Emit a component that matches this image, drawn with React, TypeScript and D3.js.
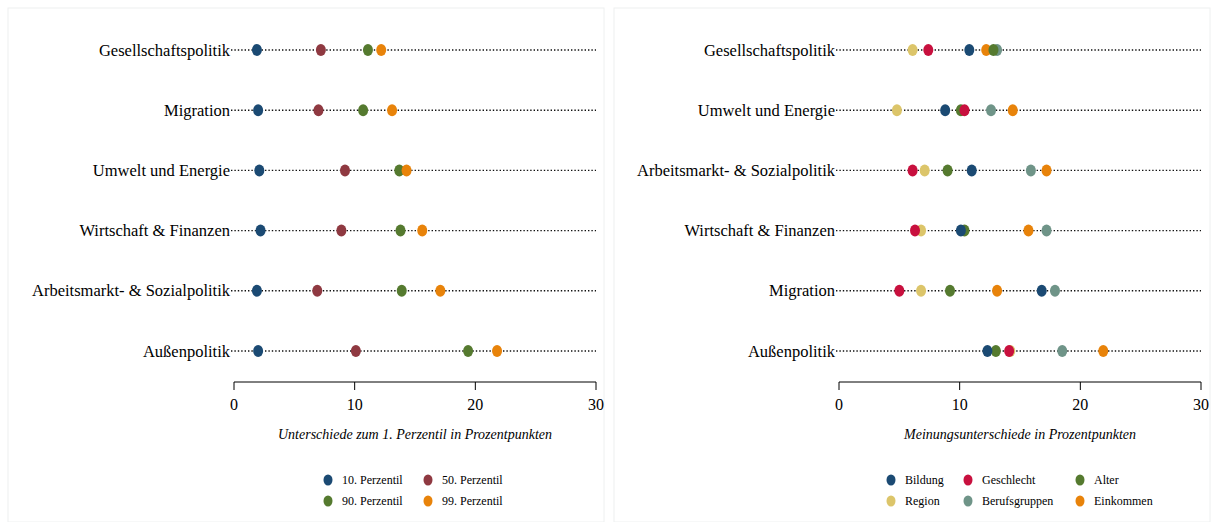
import React from 'react';
import * as d3 from 'd3';

const leftCats = ['Gesellschaftspolitik', 'Migration', 'Umwelt und Energie', 'Wirtschaft & Finanzen', 'Arbeitsmarkt- & Sozialpolitik', 'Außenpolitik'];
const leftSeries = ['10. Perzentil', '50. Perzentil', '90. Perzentil', '99. Perzentil'];
const leftColors = ['#1b4a73', '#8f3941', '#557a2f', '#e8830a'];
const leftValues = [
  [1.9, 7.2, 11.1, 12.2],
  [2.0, 7.0, 10.7, 13.1],
  [2.1, 9.2, 13.7, 14.3],
  [2.2, 8.9, 13.8, 15.6],
  [1.9, 6.9, 13.9, 17.1],
  [2.0, 10.1, 19.4, 21.8],
];

const rightCats = ['Gesellschaftspolitik', 'Umwelt und Energie', 'Arbeitsmarkt- & Sozialpolitik', 'Wirtschaft & Finanzen', 'Migration', 'Außenpolitik'];
const rightSeries = ['Bildung', 'Geschlecht', 'Alter', 'Region', 'Berufsgruppen', 'Einkommen'];
const rightColors = ['#1b4a73', '#c8103e', '#557a2f', '#dcc56a', '#6f9488', '#e8830a'];
// order: Bildung, Geschlecht, Alter, Region, Berufsgruppen, Einkommen
const rightValues = [
  [10.8, 7.4, 12.8, 6.1, 13.1, 12.2],
  [8.8, 10.4, 10.1, 4.8, 12.6, 14.4],
  [11.0, 6.1, 9.0, 7.1, 15.9, 17.2],
  [10.1, 6.3, 10.4, 6.8, 17.2, 15.7],
  [16.8, 5.0, 9.2, 6.8, 17.9, 13.1],
  [12.3, 14.1, 13.0, 14.2, 18.5, 21.9],
];
const rightDrawOrder = [3, 4, 5, 2, 0, 1];
const ticks = [0, 10, 20, 30];

const font = '"Liberation Serif", "Times New Roman", serif';

function Panel({ ox, x0, cats, values, colors, order, title, legend, legendCols }: any) {
  const x = d3.scaleLinear().domain([0, 30]).range([x0, x0 + 362]);
  const y = d3.scalePoint().domain(cats).range([50, 351]);
  return (
    <g>
      <rect x={ox} y={8} width={596} height={514} fill="#fff" stroke="#eef0f0" />
      {cats.map((c: string, i: number) => (
        <g key={c}>
          <text x={x0 - 4} y={y(c)! + 5.5} textAnchor="end" fontSize={16.5}>{c}</text>
          <line x1={x0 - 3} x2={x(30)} y1={y(c)} y2={y(c)} stroke="#111" strokeWidth={1.4} strokeDasharray="1.4 2" />
          {order.map((s: number) => (
            <ellipse key={s} cx={x(values[i][s])} cy={y(c)} rx={5} ry={6} fill={colors[s]} />
          ))}
        </g>
      ))}
      <line x1={x(0)} x2={x(30)} y1={382} y2={382} stroke="#000" />
      {ticks.map(t => (
        <g key={t}>
          <line x1={x(t)} x2={x(t)} y1={382} y2={390} stroke="#000" />
          <text x={x(t)} y={410} textAnchor="middle" fontSize={16}>{t}</text>
        </g>
      ))}
      <text x={x(15)} y={439} textAnchor="middle" fontSize={14} fontStyle="italic">{title}</text>
      {legend.map((l: string, i: number) => {
        const col = i % legendCols.length;
        const row = Math.floor(i / legendCols.length);
        return (
          <g key={l}>
            <ellipse cx={legendCols[col]} cy={480 + row * 21} rx={4.5} ry={5.5} fill={colors[i]} />
            <text x={legendCols[col] + 14} y={484 + row * 21} fontSize={12}>{l}</text>
          </g>
        );
      })}
    </g>
  );
}

export default function App() {
  return (
    <svg width={1211} height={522} style={{ position: 'absolute', left: 0, top: 0, fontFamily: font }}>
      <Panel ox={8} x0={234} cats={leftCats} values={leftValues} colors={leftColors} order={[0, 1, 2, 3]}
        title="Unterschiede zum 1. Perzentil in Prozentpunkten" legend={leftSeries} legendCols={[328, 428]} />
      <Panel ox={614} x0={839} cats={rightCats} values={rightValues} colors={rightColors} order={rightDrawOrder}
        title="Meinungsunterschiede in Prozentpunkten" legend={rightSeries} legendCols={[891, 968, 1080]} />
    </svg>
  );
}
